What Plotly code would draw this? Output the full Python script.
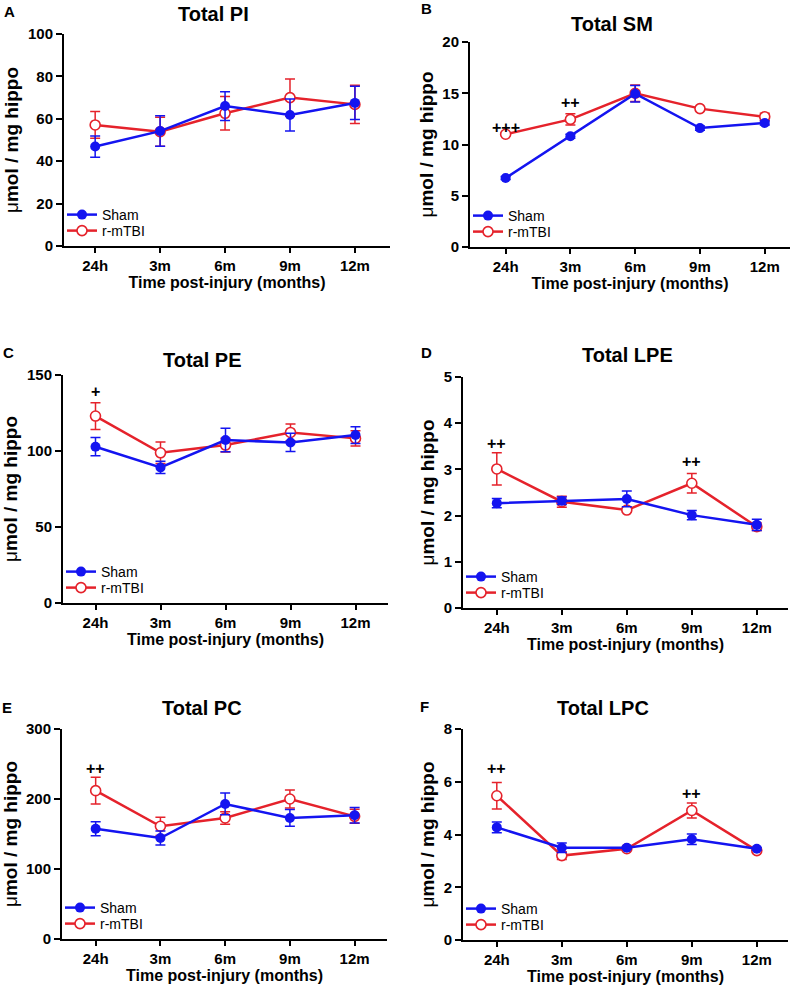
import plotly.graph_objects as go

# time points
times = ['24h', '3m', '6m', '9m', '12m']

# Total PI
pi_sham = [46.9, 54.2, 66.0, 61.8, 67.5]
pi_sham_err = [5.0, 7.2, 6.8, 7.5, 7.8]
pi_tbi = [57.1, 53.9, 62.6, 70.0, 66.8]
pi_tbi_err = [6.3, 6.8, 7.9, 8.8, 9.0]

# Total SM
sm_sham = [6.73, 10.8, 14.95, 11.6, 12.1]
sm_sham_err = [0.15, 0.2, 0.8, 0.2, 0.2]
sm_tbi = [11.0, 12.45, 15.0, 13.5, 12.7]
sm_tbi_err = [0.15, 0.55, 0.8, 0.2, 0.35]

# Total PE
pe_sham = [102.8, 89.2, 107.2, 105.6, 110.5]
pe_sham_err = [6.0, 4.0, 7.7, 6.0, 5.5]
pe_tbi = [123.0, 98.8, 103.9, 112.2, 108.3]
pe_tbi_err = [8.8, 7.1, 4.5, 5.5, 5.0]

# Total LPE
lpe_sham = [2.27, 2.32, 2.36, 2.01, 1.80]
lpe_sham_err = [0.1, 0.08, 0.17, 0.1, 0.12]
lpe_tbi = [3.01, 2.30, 2.12, 2.70, 1.76]
lpe_tbi_err = [0.35, 0.12, 0.05, 0.21, 0.08]

# Total PC
pc_sham = [157.6, 144.3, 192.9, 172.9, 176.7]
pc_sham_err = [10.0, 10.0, 15.5, 12.0, 11.0]
pc_tbi = [211.9, 161.0, 172.9, 200.0, 175.2]
pc_tbi_err = [19.0, 13.0, 9.0, 13.0, 10.0]

# Total LPC
lpc_sham = [4.27, 3.50, 3.50, 3.82, 3.46]
lpc_sham_err = [0.2, 0.18, 0.05, 0.2, 0.05]
lpc_tbi = [5.47, 3.20, 3.46, 4.91, 3.39]
lpc_tbi_err = [0.5, 0.15, 0.05, 0.28, 0.05]

# significance marks: (time, y, text)
sm_marks = [('24h', 11.7, '+++'), ('3m', 14.1, '++')]
pe_marks = [('24h', 139, '+')]
lpe_marks = [('24h', 3.56, '++'), ('9m', 3.17, '++')]
pc_marks = [('24h', 244, '++')]
lpc_marks = [('24h', 6.52, '++'), ('9m', 5.57, '++')]

W, H = 800, 990
BLUE = '#1414f0'
RED = '#e5222b'
FONT = 'Liberation Sans, Arial, sans-serif'

# panel layout in pixels: letter, title, box (left, right, top, bottom), x range, y max, y dtick, data
panels = [
    dict(letter='A', lpos=(9, 12), title='Total PI', tpos=(213, 14), box=(64, 390, 34, 246),
         xr=[-0.48, 4.54], ymax=100, dtick=20, sham=pi_sham, se=pi_sham_err, tbi=pi_tbi, te=pi_tbi_err, marks=[]),
    dict(letter='B', lpos=(427, 9), title='Total SM', tpos=(612, 24), box=(470, 790, 42, 247),
         xr=[-0.55, 4.39], ymax=20, dtick=5, sham=sm_sham, se=sm_sham_err, tbi=sm_tbi, te=sm_tbi_err, marks=sm_marks),
    dict(letter='C', lpos=(8, 353), title='Total PE', tpos=(202, 360), box=(63, 388, 375, 603),
         xr=[-0.5, 4.5], ymax=150, dtick=50, sham=pe_sham, se=pe_sham_err, tbi=pe_tbi, te=pe_tbi_err, marks=pe_marks),
    dict(letter='D', lpos=(426, 353), title='Total LPE', tpos=(627, 355), box=(463, 788, 377, 608),
         xr=[-0.52, 4.48], ymax=5, dtick=1, sham=lpe_sham, se=lpe_sham_err, tbi=lpe_tbi, te=lpe_tbi_err, marks=lpe_marks),
    dict(letter='E', lpos=(7, 707), title='Total PC', tpos=(202, 708), box=(62, 387, 729, 939),
         xr=[-0.52, 4.5], ymax=300, dtick=100, sham=pc_sham, se=pc_sham_err, tbi=pc_tbi, te=pc_tbi_err, marks=pc_marks),
    dict(letter='F', lpos=(424, 706), title='Total LPC', tpos=(603, 708), box=(463, 788, 729, 940),
         xr=[-0.52, 4.48], ymax=8, dtick=2, sham=lpc_sham, se=lpc_sham_err, tbi=lpc_tbi, te=lpc_tbi_err, marks=lpc_marks),
]

fig = go.Figure()
layout = {}
annotations = []

for i, p in enumerate(panels):
    n = '' if i == 0 else str(i + 1)
    xa, ya = 'x' + n, 'y' + n
    left, right, top, bottom = p['box']
    xdom = [left / W, right / W]
    ydom = [1 - bottom / H, 1 - top / H]

    leg1 = 'legend' + ('' if i == 0 else str(2 * i + 1))
    leg2 = 'legend' + str(2 * i + 2)

    fig.add_trace(go.Scatter(
        x=times, y=p['tbi'], name='r-mTBI', mode='lines+markers', xaxis=xa, yaxis=ya, legend=leg2,
        line=dict(color=RED, width=2.5),
        marker=dict(symbol='circle', size=10, color='white', line=dict(color=RED, width=1.6)),
        error_y=dict(type='data', array=p['te'], color=RED, thickness=1.5, width=5),
    ))
    fig.add_trace(go.Scatter(
        x=times, y=p['sham'], name='Sham', mode='lines+markers', xaxis=xa, yaxis=ya, legend=leg1,
        line=dict(color=BLUE, width=2.5),
        marker=dict(symbol='circle', size=10, color=BLUE),
        error_y=dict(type='data', array=p['se'], color=BLUE, thickness=1.5, width=5),
    ))

    layout['xaxis' + n] = dict(
        domain=xdom, anchor=ya, type='category', range=p['xr'],
        showline=True, linecolor='black', linewidth=2, ticks='outside', ticklen=5, tickwidth=2,
        tickcolor='black', showgrid=False, zeroline=False,
        tickfont=dict(family=FONT, size=15, color='black', weight='bold'),
        title=dict(text='Time post-injury (months)', standoff=2,
                   font=dict(family=FONT, size=16, color='black', weight='bold')),
    )
    layout['yaxis' + n] = dict(
        domain=ydom, anchor=xa, range=[0, p['ymax']], dtick=p['dtick'],
        showline=True, linecolor='black', linewidth=2, ticks='outside', ticklen=6, tickwidth=2,
        tickcolor='black', showgrid=False, zeroline=False,
        tickfont=dict(family=FONT, size=15, color='black', weight='bold'),
        title=dict(text="<span style='font-weight:normal'>μ</span>mol / mg hippo", standoff=4,
                   font=dict(family=FONT, size=19, color='black', weight='bold')),
    )

    legend_style = dict(
        bgcolor='rgba(0,0,0,0)', borderwidth=0, xanchor='left', yanchor='middle',
        font=dict(family=FONT, size=14, color='black'), itemwidth=30,
    )
    ysham = bottom - 31
    layout[leg1] = dict(x=(left - 2) / W, y=1 - ysham / H, **legend_style)
    layout[leg2] = dict(x=(left - 2) / W, y=1 - (ysham + 16) / H, **legend_style)

    annotations.append(dict(text='<b>' + p['letter'] + '</b>', x=p['lpos'][0] / W, y=1 - p['lpos'][1] / H,
                            xref='paper', yref='paper', showarrow=False, xanchor='center', yanchor='middle',
                            font=dict(family=FONT, size=15, color='black')))
    annotations.append(dict(text='<b>' + p['title'] + '</b>', x=p['tpos'][0] / W, y=1 - p['tpos'][1] / H,
                            xref='paper', yref='paper', showarrow=False, xanchor='center', yanchor='middle',
                            font=dict(family=FONT, size=20, color='black')))
    for t, yv, txt in p['marks']:
        annotations.append(dict(text='<b>' + txt + '</b>', x=t, y=yv, xref=xa, yref=ya, showarrow=False,
                                xanchor='center', yanchor='middle',
                                font=dict(family=FONT, size=16, color='black')))

fig.update_layout(
    width=W, height=H, margin=dict(l=0, r=0, t=0, b=0, autoexpand=False),
    plot_bgcolor='white', paper_bgcolor='white',
    showlegend=True, annotations=annotations, **layout,
)

# page body has a default 8px margin; remove it so the figure sits at the window origin
fig.write_html('out.html', config={'displayModeBar': False},
               post_script="document.body.style.margin='0';")
